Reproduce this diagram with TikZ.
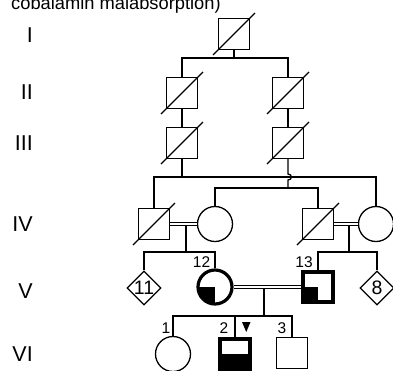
\documentclass[tikz,border=0pt]{standalone}
\usepackage{fontspec}
\setmainfont{Liberation Sans}
\usetikzlibrary{shapes.geometric,calc}

\tikzset{
  ln/.style={line width=1.3pt},
  male/.style={draw, ln, rectangle, minimum size=31pt, inner sep=0pt},
  female/.style={draw, ln, circle, minimum size=35pt, inner sep=0pt},
  unk/.style={draw, ln, diamond, minimum size=34pt, inner sep=0pt,
    label={[inner sep=0pt, font=\fontsize{19.5}{19.5}\selectfont]center:#1}},
  thickm/.style={male, line width=3.2pt, minimum size=30pt},
  thickf/.style={female, line width=3.2pt, minimum size=34pt},
  quarter/.style={path picture={\fill (path picture bounding box.center)
    rectangle (path picture bounding box.south west);}},
  lowerhalf/.style={path picture={\fill (path picture bounding box.west)
    rectangle (path picture bounding box.south east);}},
  marr/.style={ln, double, double distance=1.8pt},
  gen/.style={anchor=east, inner sep=0pt, font=\fontsize{21.5}{21.5}\selectfont},
  idn/.style={inner sep=0pt, font=\fontsize{15.5}{15.5}\selectfont},
}

\begin{document}
\begin{tikzpicture}[x=1pt, y=-1pt]
\useasboundingbox (0,0) rectangle (393,370);
\clip (0,0) rectangle (393,370);

% caption fragment
\node[anchor=base west, inner sep=0pt, font=\fontsize{18.3}{18.3}\selectfont]
  (title) at (11,9) {cobalamin malabsorption)};

% generation numbers
\node[gen] (gI)   at (33,35)  {I};
\node[gen] (gII)  at (33,92)  {II};
\node[gen] (gIII) at (33,143) {III};
\node[gen] (gIV)  at (33,224) {IV};
\node[gen] (gV)   at (33,291) {V};
\node[gen] (gVI)  at (33,354) {VI};

% individuals
\node[male] (I1) at (234,34) {};
\node[male] (II1) at (182,93) {};
\node[male] (II2) at (288,93) {};
\node[male] (III1) at (182,143) {};
\node[male] (III2) at (288,143) {};
\node[male] (IV1) at (154,224) {};
\node[female] (IV2) at (215,224) {};
\node[male] (IV3) at (318,224) {};
\node[female] (IV4) at (376,224) {};
\node[unk=11] (V11) at (144,288) {};
\node[thickf, quarter] (V12) at (215,287) {};
\node[thickm, quarter] (V13) at (318,287) {};
\node[unk=8] (V8) at (377,288) {};
\node[female] (VI1) at (173,354) {};
\node[thickm, lowerhalf] (VI2) at (235,354) {};
\node[male] (VI3) at (292,353) {};

% deceased marks
\foreach \n in {I1,II1,II2,III1,III2,IV1,IV3}
  \draw[ln] ($(\n.center)+(-21,21)$) -- ($(\n.center)+(21,-21)$);

% line of descent, generations I to III
\coordinate (s1) at (234,58);
\draw[ln] (I1.south) -- (s1);
\draw[ln] (II1.north) |- (s1) -| (II2.north);
\draw[ln] (II1.south) -- (III1.north);
\draw[ln] (II2.south) -- (III2.north);

% children of III1
\coordinate (s2) at (182,177);
\draw[ln] (III1.south) -- (s2);
\draw[ln] (IV1.north) |- (s2) -| (IV4.north);

% children of III2, hopping over the line of III1
\coordinate (s3) at (288,188);
\draw[ln] (III2.south) -- (288,174) .. controls (292.5,174) and (292.5,180) .. (288,180) -- (s3);
\draw[ln] (IV2.north) |- (s3) -| (IV3.north);

% consanguineous unions
\coordinate (d1) at (186,225);
\coordinate (d1s) at (186,252);
\draw[ln] (d1) -- (d1s);
\draw[ln] (V11.north) |- (d1s) -| (V12.north);
\draw[marr] (IV1.east) -- (IV2.west);

\coordinate (d2) at (349,225);
\coordinate (d2s) at (349,252);
\draw[ln] (d2) -- (d2s);
\draw[ln] (V13.north) |- (d2s) -| (V8.north);
\draw[marr] (IV3.east) -- (IV4.west);

\coordinate (d3) at (264,287);
\coordinate (d3s) at (264,316);
\draw[ln] (d3) -- (d3s);
\draw[ln] (VI1.north) |- (d3s);
\draw[ln] (VI2.north) -- (VI2.north |- d3s);
\draw[ln] (d3s) -| (VI3.north);
\draw[marr] (V12.east) -- (V13.west);

% identifiers
\node[idn] (n12) at (201.5,262) {12};
\node[idn] (n13) at (304,262) {13};
\node[idn] (n1) at (166,328) {1};
\node[idn] (n2) at (224,328) {2};
\node[idn] (n3) at (282,328) {3};

% proband arrowhead
\fill (242,322) -- (250.5,322) -- (246.25,332) -- cycle;
\end{tikzpicture}
\end{document}
